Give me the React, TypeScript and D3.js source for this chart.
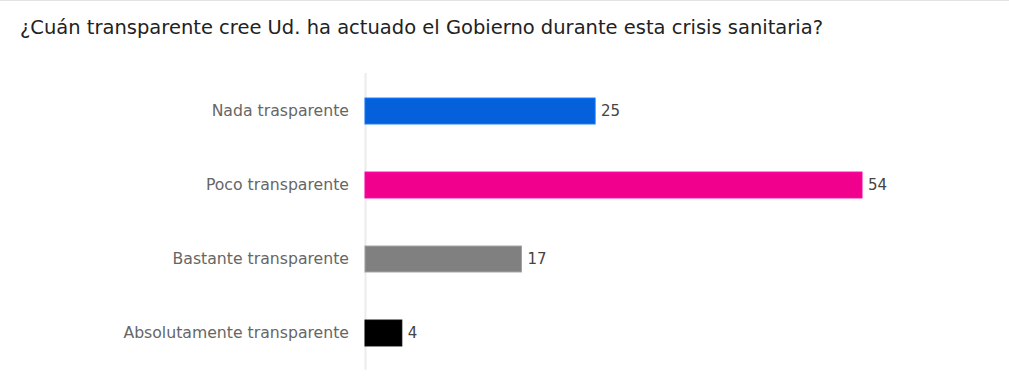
import React from "react";
import * as d3 from "d3";

const categories = ["Nada trasparente", "Poco transparente", "Bastante transparente", "Absolutamente transparente"];
const values = [25, 54, 17, 4];
const colors = ["#0560dc", "#f0008c", "#808080", "#000000"];
const title = "¿Cuán transparente cree Ud. ha actuado el Gobierno durante esta crisis sanitaria?";

export default function App() {
  const W = 1009, H = 379;
  const x = d3.scaleLinear().domain([0, 54]).range([365, 862]);
  const y = d3.scaleBand<string>().domain(categories).range([74, 370]).paddingInner(0.65).paddingOuter(0.325);
  return (
    <svg width={W} height={H} style={{ position: "absolute", left: 0, top: 0, background: "#fff" }}>
      <line x1={0} x2={W} y1={0.5} y2={0.5} stroke="#e2e2e2" />
      <text x={20} y={34} fontFamily="'DejaVu Sans', sans-serif" fontSize={19.5} fill="#222">{title}</text>
      <line x1={365.5} x2={365.5} y1={73} y2={370} stroke="#ececec" strokeWidth={2} />
      {categories.map((c, i) => {
        const y0 = y(c)!;
        const bw = y.bandwidth();
        return (
          <g key={c}>
            <rect x={x(0)} y={y0} width={x(values[i]) - x(0)} height={bw} fill={colors[i]}
              stroke={d3.color(colors[i])!.brighter(0.6).formatHex()} strokeWidth={1} />
            <text x={349} y={y0 + bw / 2} dy="0.35em" textAnchor="end" fontFamily="'DejaVu Sans', sans-serif" fontSize={15.7} fill="#666">{c}</text>
            <text x={x(values[i]) + 6} y={y0 + bw / 2} dy="0.35em" fontFamily="'DejaVu Sans', sans-serif" fontSize={15} fill="#444">{values[i]}</text>
          </g>
        );
      })}
    </svg>
  );
}
